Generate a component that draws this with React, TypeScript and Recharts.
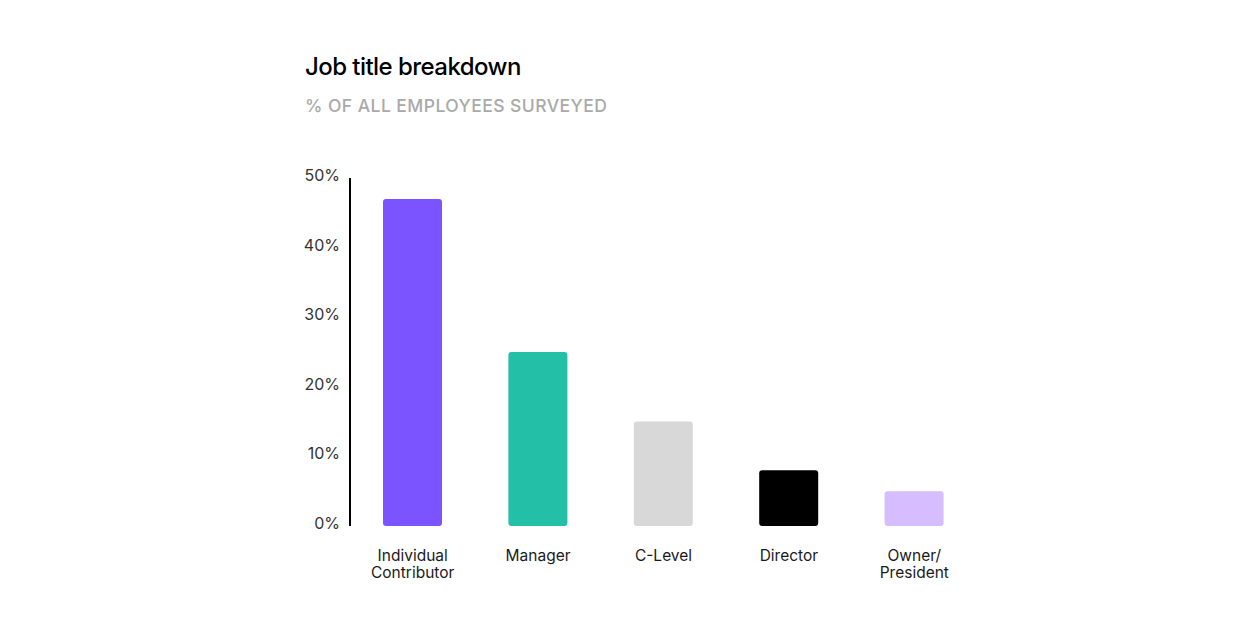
import { BarChart, Bar, XAxis, YAxis, Cell } from 'recharts'

const titles = ['Individual Contributor', 'Manager', 'C-Level', 'Director', 'Owner/ President']
const shares = [47, 25, 15, 8, 5]
const colors = ['#7b54ff', '#23bfa6', '#d8d8d8', '#000000', '#d5bdff']
const yTicks = [0, 10, 20, 30, 40, 50]

const data = titles.map((name, i) => ({ name, value: shares[i], fill: colors[i] }))

const font = 'Inter, "Noto Sans", sans-serif'

function TitleTick({ x, y, payload }: any) {
  const lines = String(payload.value).split(' ')
  return (
    <text x={x} y={y} textAnchor="middle" fill="#1a1a1a" fontSize={15.5} fontFamily={font}>
      {lines.map((line, i) => (
        <tspan key={i} x={x} dy={i === 0 ? 35 : 17}>
          {line}
        </tspan>
      ))}
    </text>
  )
}

function PctTick({ x, y, payload }: any) {
  return (
    <text x={x} y={y} dy={3} textAnchor="end" fill="#333" fontSize={16} fontFamily={font}>
      {`${payload.value}%`}
    </text>
  )
}

export default function App() {
  return (
    <div style={{ position: 'absolute', left: 0, top: 0, width: 1254, height: 638, background: '#fff' }}>
      <div
        style={{
          position: 'absolute',
          left: 305,
          top: 52,
          fontFamily: font,
          fontSize: 24,
          fontWeight: 500,
          color: '#000',
          letterSpacing: -0.55,
          whiteSpace: 'nowrap',
        }}
      >
        Job title breakdown
      </div>
      <div
        style={{
          position: 'absolute',
          left: 305,
          top: 95,
          fontFamily: font,
          fontSize: 17.5,
          fontWeight: 500,
          color: '#a9a9a9',
          letterSpacing: 0.45,
          whiteSpace: 'nowrap',
        }}
      >
        % OF ALL EMPLOYEES SURVEYED
      </div>
      <BarChart
        width={1254}
        height={638}
        data={data}
        margin={{ top: 178, right: 277, left: 0, bottom: 52 }}
        barSize={59}
      >
        <XAxis
          dataKey="name"
          axisLine={false}
          tickLine={false}
          tickSize={0}
          tickMargin={0}
          height={60}
          interval={0}
          tick={<TitleTick />}
        />
        <YAxis
          width={350}
          domain={[0, 50]}
          ticks={yTicks}
          axisLine={{ stroke: '#000', strokeWidth: 2 }}
          tickLine={false}
          tickSize={0}
          tickMargin={10}
          tick={<PctTick />}
        />
        <Bar dataKey="value" radius={3} isAnimationActive={false}>
          {data.map((d, i) => (
            <Cell key={`cell-${i}`} fill={d.fill} />
          ))}
        </Bar>
      </BarChart>
    </div>
  )
}
